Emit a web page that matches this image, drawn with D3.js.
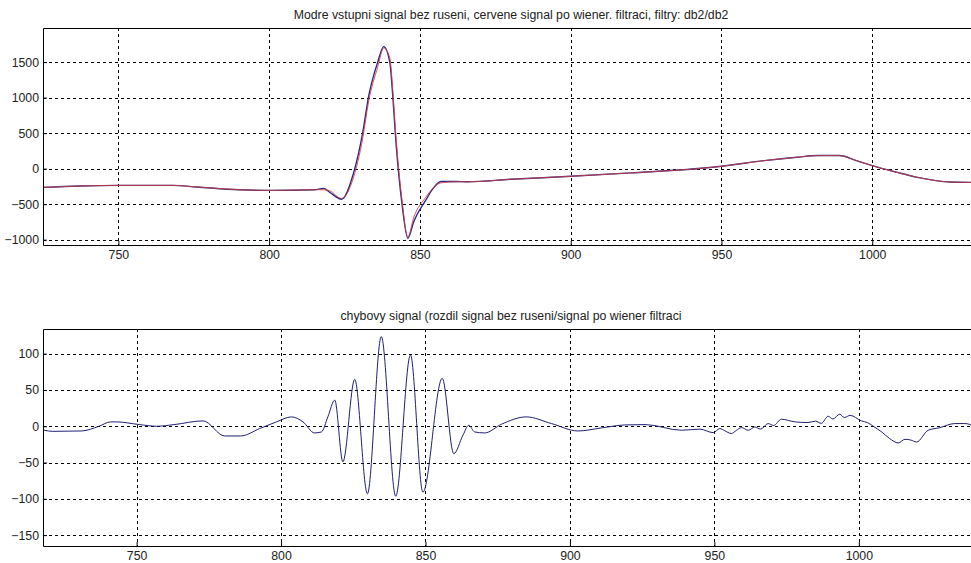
<!DOCTYPE html>
<html>
<head>
<meta charset="utf-8">
<script src="https://cdn.jsdelivr.net/npm/d3@7"></script>
<style>
  body { margin: 0; background: #fff; }
  text { font-family: Arial, "Liberation Sans", sans-serif; font-size: 12px; fill: #222; }
</style>
</head>
<body>
<div id="main"></div>
<script>
// top plot: clean input (blue) and wiener-filtered (red)
var topX    = [725, 737, 750, 768, 776, 790, 801, 815, 818, 820, 824, 828, 831, 833, 836, 838, 840, 841, 842, 844, 846, 848, 852, 854, 857, 862, 866, 880, 900, 920, 947, 950, 965, 975, 982, 989, 995, 1000, 1008, 1015, 1026, 1035];
var topBlue = [-264, -245, -236, -236, -258, -297, -306, -297, -278, -330, -430, -60, 500, 1020, 1500, 1718, 1500, 1020, 400, -480, -980, -740, -440, -300, -180, -180, -185, -150, -108, -60, 19, 33, 117, 160, 184, 184, 110, 42, -50, -123, -188, -195];
var topRed  = [-264, -245, -236, -236, -258, -297, -306, -297, -297, -310, -420, -120, 420, 950, 1430, 1700, 1560, 1100, 480, -420, -960, -680, -400, -290, -200, -185, -185, -150, -108, -60, 19, 33, 117, 160, 184, 184, 110, 42, -50, -123, -188, -195];
var topXTicks = [750, 800, 850, 900, 950, 1000];
var topYTicks = [-1000, -500, 0, 500, 1000, 1500];
var topTitle = "Modre vstupni signal bez ruseni, cervene signal po wiener. filtraci, filtry: db2/db2";

// bottom plot: error signal
var errX = [718, 721, 731, 737, 741, 743, 751, 757, 763, 773, 780.5, 786, 792.6, 798.4, 803.6, 807.6, 811.6, 814, 816.2, 818.6, 821.4, 825.5, 829.9, 834.7, 839.7, 844.8, 849.1, 855.8, 859.8, 863, 865, 867, 870.5, 876.3, 884.9, 893.6, 902.8, 910.9, 919, 926, 938.6, 945, 949.6, 951.9, 953.5, 955.9, 957.5, 959.4, 961.7, 964, 966, 968.6, 970.5, 973.2, 978, 982.4, 985, 987, 989.4, 991, 993.4, 995, 997, 1000.9, 1003, 1005, 1007.9, 1010.7, 1013.6, 1016, 1018, 1020, 1024, 1028, 1033.2, 1036.7, 1040];
var errY = [-5.5, -7, -6.5, 0, 6, 6, 2.3, 0, 2.3, 7.4, -13.4, -13.4, -3.2, 6, 12.9, 6, -9.2, -7.8, 12.9, 36, -49, 64.6, -93, 123.5, -96.4, 98.2, -90.8, 66, -37.8, -12, 1.4, -7.8, -9.2, 2.8, 12.9, 3.7, -6.5, -2.3, 1.8, 2.3, -5.5, -4, -8.8, -3.2, -6, -10, -6, -1.8, -5.5, -1, -4, 3.7, 1, 9.7, 6, 5.1, 7, 4, 13.8, 10, 16.6, 12, 15, 7.4, 5, 0, -7.8, -17, -23, -18, -19, -21.7, -5.5, -2, 3.7, 3.7, 0];
var errXTicks = [750, 800, 850, 900, 950, 1000];
var errYTicks = [-150, -100, -50, 0, 50, 100];
var errTitle = "chybovy signal (rozdil signal bez ruseni/signal po wiener filtraci";

var W = 971, H = 563;
var translate = function(x, y) { return "translate(" + x + "," + y + ")"; };

var svg = d3.select("#main").append("svg")
    .attr("width", W)
    .attr("height", H);

function panel(opts) {
  var w = opts.width, h = opts.height;
  var x = d3.scaleLinear().domain(opts.xDomain).range([0, w]);
  var y = d3.scaleLinear().domain(opts.yDomain).range([h, 0]);

  var g = svg.append("g").attr("transform", translate(opts.left, opts.top));

  g.append("clipPath").attr("id", opts.id)
    .append("rect").attr("width", w).attr("height", h);

  // grid
  g.append("g").selectAll("line.gx")
    .data(opts.xTicks).enter().append("line")
      .attr("x1", function(d) { return Math.round(x(d)) + 0.5; })
      .attr("x2", function(d) { return Math.round(x(d)) + 0.5; })
      .attr("y1", 0).attr("y2", h)
      .attr("stroke", "#000").attr("stroke-dasharray", "3,3");
  g.append("g").selectAll("line.gy")
    .data(opts.yTicks).enter().append("line")
      .attr("y1", function(d) { return Math.round(y(d)) + 0.5; })
      .attr("y2", function(d) { return Math.round(y(d)) + 0.5; })
      .attr("x1", 0).attr("x2", w)
      .attr("stroke", "#000").attr("stroke-dasharray", "3,3");

  // axes
  var fmt = d3.format("d");
  var xAxis = d3.axisBottom(x).tickValues(opts.xTicks).tickFormat(fmt).tickSizeInner(-4).tickSizeOuter(0).tickPadding(5);
  var yAxis = d3.axisLeft(y).tickValues(opts.yTicks).tickFormat(fmt).tickSizeInner(-4).tickSizeOuter(0).tickPadding(4);
  var gx = g.append("g").attr("transform", translate(0, h)).call(xAxis);
  var gy = g.append("g").call(yAxis);
  [gx, gy].forEach(function(a) {
    a.select(".domain").remove();
    a.selectAll("text").style("font-size", "12.3px").attr("fill", "#222");
  });

  // series
  var line = d3.line()
      .x(function(d) { return x(d[0]); })
      .y(function(d) { return y(d[1]); })
      .curve(d3.curveMonotoneX);
  var lines = g.append("g").attr("clip-path", "url(#" + opts.id + ")");
  opts.series.forEach(function(s) {
    lines.append("path")
      .datum(d3.zip(s.x, s.y))
      .attr("d", line)
      .attr("fill", "none")
      .attr("stroke", s.color)
      .attr("stroke-width", s.width)
      .attr("stroke-opacity", s.opacity || 1);
  });

  // box (right side runs off screen)
  g.append("path")
    .attr("d", "M" + (w + 2) + ",0.5H0.5V" + (h + 0.5) + "H" + (w + 2))
    .attr("fill", "none").attr("stroke", "#000");

  svg.append("text")
    .attr("x", opts.left + w / 2)
    .attr("y", opts.top - 9)
    .attr("text-anchor", "middle")
    .style("font-size", "12.3px")
    .text(opts.title);
}

panel({
  id: "clipTop", left: 43, top: 28, width: 936, height: 217,
  xDomain: [725, 1035.4], yDomain: [-1075, 1980],
  xTicks: topXTicks, yTicks: topYTicks, title: topTitle,
  series: [
    {x: topX, y: topBlue, color: "#2a2a8c", width: 1.4},
    {x: topX, y: topRed, color: "#d23c3c", width: 1, opacity: 0.85}
  ]
});

panel({
  id: "clipBot", left: 43, top: 329, width: 936, height: 217,
  xDomain: [717.6, 1041.6], yDomain: [-165, 134],
  xTicks: errXTicks, yTicks: errYTicks, title: errTitle,
  series: [
    {x: errX, y: errY, color: "#1f1f75", width: 1}
  ]
});
</script>
</body>
</html>
